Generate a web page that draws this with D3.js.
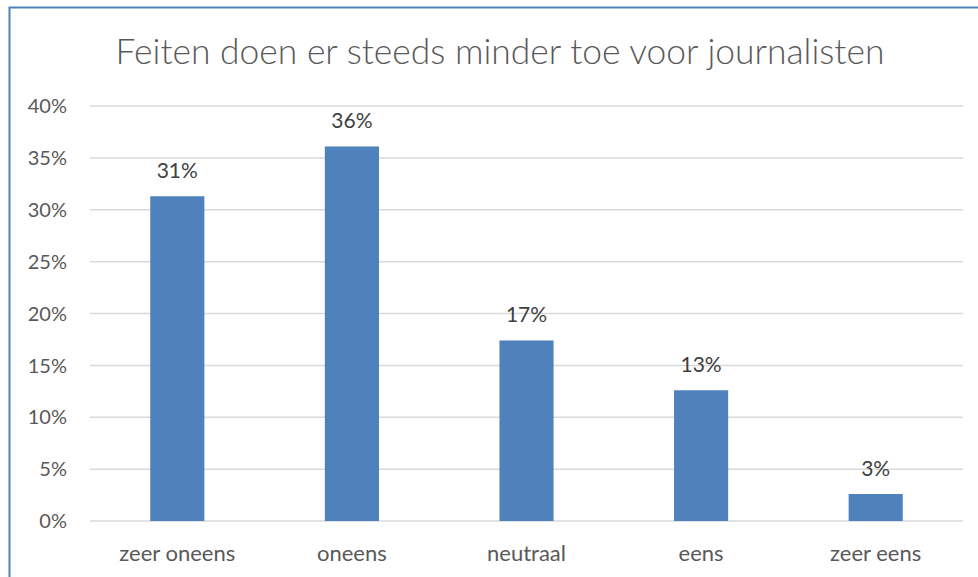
<!DOCTYPE html>
<html>
<head>
<meta charset="utf-8">
<script src="https://cdn.jsdelivr.net/npm/d3@7"></script>
<style>
  html, body { margin: 0; padding: 0; background: #ffffff; }
  svg { display: block; }
</style>
</head>
<body>
<script>
const title = "Feiten doen er steeds minder toe voor journalisten";
const categories = ["zeer oneens", "oneens", "neutraal", "eens", "zeer eens"];
const values = [0.313, 0.361, 0.174, 0.126, 0.026];
const yTicks = [0, 0.05, 0.10, 0.15, 0.20, 0.25, 0.30, 0.35, 0.40];

const W = 978, H = 577;
const margin = { left: 90, right: 15, top: 106, bottom: 56 };
const textColor = "#595959";
const font = "Lato, 'Open Sans', sans-serif";

const svg = d3.select("body").append("svg")
  .attr("width", W).attr("height", H);

svg.append("rect").attr("x", 0).attr("y", 0).attr("width", W).attr("height", H).attr("fill", "#fff");

// chart border (extends past the window edges, as in the reference)
svg.append("rect")
  .attr("x", 9.5).attr("y", 7.5).attr("width", 1000).attr("height", 700)
  .attr("fill", "none").attr("stroke", "#4f81bd").attr("stroke-width", 2);

const x = d3.scaleBand()
  .domain(categories)
  .range([margin.left, W - margin.right])
  .paddingInner(0.69).paddingOuter(0.345);

const y = d3.scaleLinear()
  .domain([0, 0.40])
  .range([H - margin.bottom, margin.top]);

// gridlines
svg.append("g").selectAll("line").data(yTicks).join("line")
  .attr("x1", margin.left).attr("x2", W - margin.right)
  .attr("y1", d => y(d)).attr("y2", d => y(d))
  .attr("stroke", "#d9d9d9").attr("stroke-width", 1.5);

// y tick labels
const fmtTick = d3.format(".0%");
svg.append("g").selectAll("text").data(yTicks).join("text")
  .attr("x", 67).attr("y", d => y(d)).attr("dy", "0.36em")
  .attr("text-anchor", "end")
  .attr("font-family", font).attr("font-size", 20)
  .attr("fill", textColor)
  .text(d => fmtTick(d));

// bars
svg.append("g").selectAll("rect").data(values).join("rect")
  .attr("x", (d, i) => x(categories[i]))
  .attr("width", x.bandwidth())
  .attr("y", d => y(d))
  .attr("height", d => y(0) - y(d))
  .attr("fill", "#4f81bd");

// data labels
const fmtLbl = d3.format(".0%");
svg.append("g").selectAll("text").data(values).join("text")
  .attr("x", (d, i) => x(categories[i]) + x.bandwidth() / 2)
  .attr("y", d => y(d) - 18)
  .attr("text-anchor", "middle")
  .attr("font-family", font).attr("font-size", 21)
  .attr("fill", "#404040")
  .text(d => fmtLbl(d));

// category labels
svg.append("g").selectAll("text").data(categories).join("text")
  .attr("x", d => x(d) + x.bandwidth() / 2)
  .attr("y", 561)
  .attr("text-anchor", "middle")
  .attr("font-family", font).attr("font-size", 22)
  .attr("fill", textColor)
  .text(d => d);

// title
const t = svg.append("text")
  .attr("x", 500).attr("y", 64)
  .attr("text-anchor", "middle")
  .attr("font-family", font).attr("font-size", 32).attr("font-weight", 300)
  .attr("fill", textColor)
  .text(title);
// fit title width to the reference width
const targetW = 769;
const w = t.node().getComputedTextLength();
if (w > 0) t.attr("font-size", 32 * targetW / w);
</script>
</body>
</html>
